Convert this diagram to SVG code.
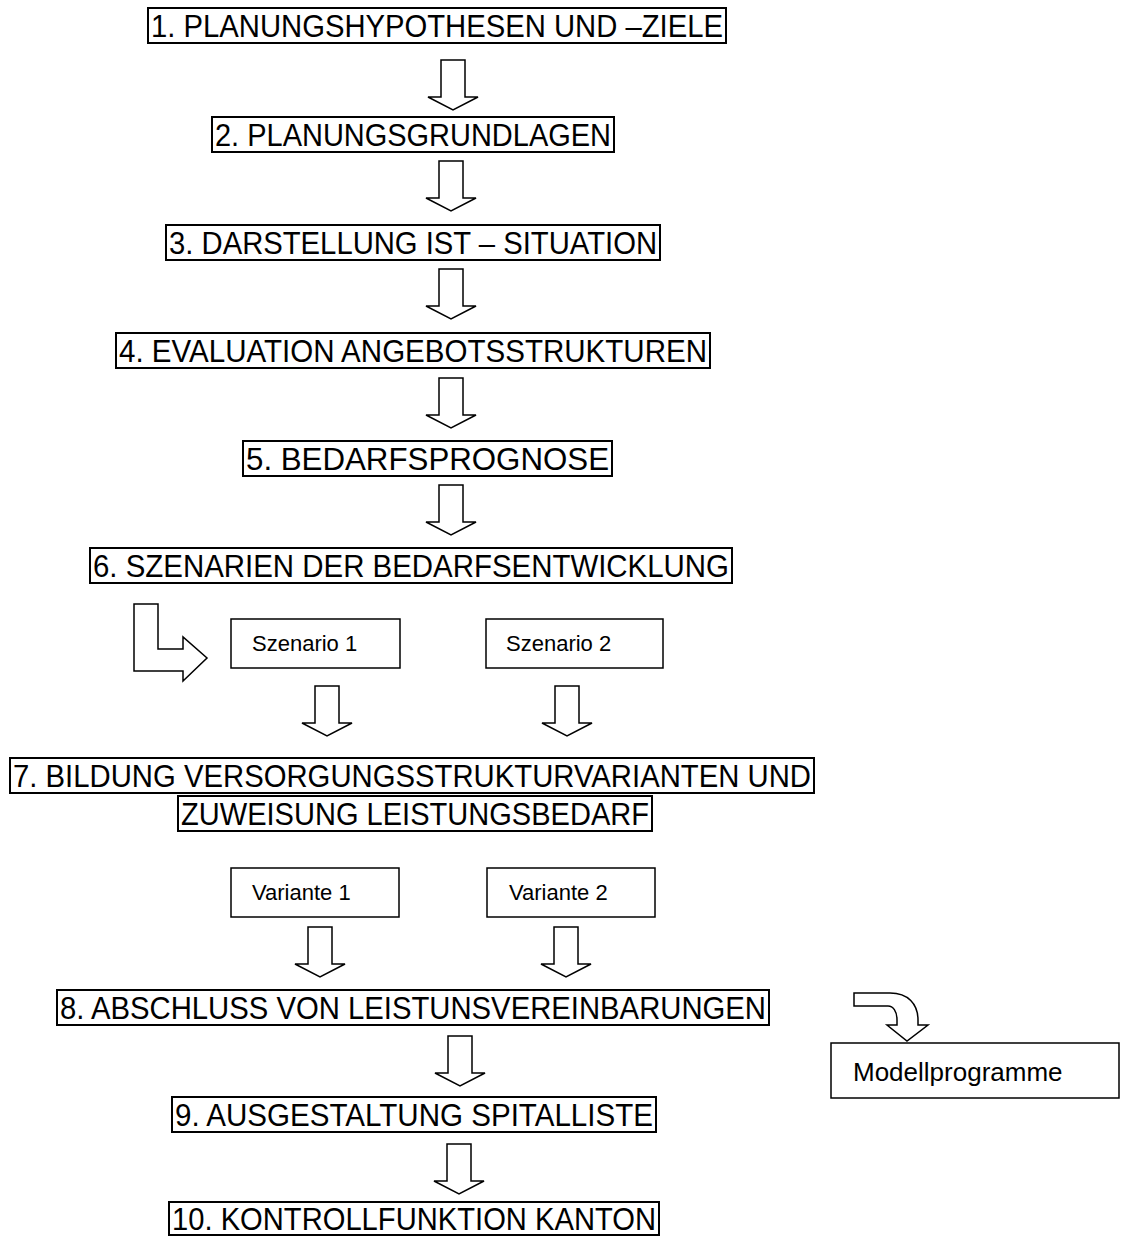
<svg xmlns="http://www.w3.org/2000/svg" width="1126" height="1237" viewBox="0 0 1126 1237">
<style>
.box{fill:#fff;stroke:#000;stroke-width:2}
.sbox{fill:#fff;stroke:#000;stroke-width:1.5}
.t{font-family:"Liberation Sans",Arial,sans-serif;font-size:32px;fill:#000}
.s{font-family:"Liberation Sans",Arial,sans-serif;font-size:22px;fill:#000}
.m{font-family:"Liberation Sans",Arial,sans-serif;font-size:26px;fill:#000}
.arr{fill:#fff;stroke:#000;stroke-width:1.5;stroke-linejoin:miter}
</style>
<defs>
<path id="down" d="M -12 0 H 12 V 37 H 25 L 0 50 L -25 37 H -12 Z"/>
</defs>
<rect width="1126" height="1237" fill="#fff"/>
<g id="connectors">
<use href="#down" class="arr" x="453" y="60"/>
<use href="#down" class="arr" x="451" y="161"/>
<use href="#down" class="arr" x="451" y="269"/>
<use href="#down" class="arr" x="451" y="378"/>
<use href="#down" class="arr" x="451" y="485"/>
<path class="arr" d="M 134 604 H 158 V 649 H 183 V 637 L 207 658 L 183 681 V 671 H 134 Z"/>
<use href="#down" class="arr" x="327" y="686"/>
<use href="#down" class="arr" x="567" y="686"/>
<use href="#down" class="arr" x="320" y="927"/>
<use href="#down" class="arr" x="566" y="927"/>
<use href="#down" class="arr" x="460" y="1036"/>
<use href="#down" class="arr" x="459" y="1144"/>
<path class="arr" d="M 854 993 H 890 C 908 993 918 1004 918 1020 V 1025 H 928 L 907 1041 L 887 1025 H 897 V 1020 C 897 1011 893 1006 888 1006 H 854 Z"/>
</g>
<g id="n1"><rect class="box" x="148" y="8" width="578" height="35"/><text class="t" x="151" y="37" textLength="572" lengthAdjust="spacingAndGlyphs">1. PLANUNGSHYPOTHESEN UND –ZIELE</text></g>
<g id="n2"><rect class="box" x="212" y="117" width="402" height="35"/><text class="t" x="215" y="146" textLength="396" lengthAdjust="spacingAndGlyphs">2. PLANUNGSGRUNDLAGEN</text></g>
<g id="n3"><rect class="box" x="166" y="225" width="494" height="35"/><text class="t" x="169" y="254" textLength="488" lengthAdjust="spacingAndGlyphs">3. DARSTELLUNG IST – SITUATION</text></g>
<g id="n4"><rect class="box" x="116" y="333" width="594" height="35"/><text class="t" x="119" y="362" textLength="588" lengthAdjust="spacingAndGlyphs">4. EVALUATION ANGEBOTSSTRUKTUREN</text></g>
<g id="n5"><rect class="box" x="243" y="441" width="369" height="35"/><text class="t" x="246" y="470" textLength="363" lengthAdjust="spacingAndGlyphs">5. BEDARFSPROGNOSE</text></g>
<g id="n6"><rect class="box" x="90" y="548" width="642" height="35"/><text class="t" x="93" y="577" textLength="636" lengthAdjust="spacingAndGlyphs">6. SZENARIEN DER BEDARFSENTWICKLUNG</text></g>
<g id="sz1"><rect class="sbox" x="231" y="619" width="169" height="49"/><text class="s" x="252" y="651">Szenario 1</text></g>
<g id="sz2"><rect class="sbox" x="486" y="619" width="177" height="49"/><text class="s" x="506" y="651">Szenario 2</text></g>
<g id="n7"><rect class="box" x="10" y="758" width="804" height="35"/><text class="t" x="13" y="787" textLength="798" lengthAdjust="spacingAndGlyphs">7. BILDUNG VERSORGUNGSSTRUKTURVARIANTEN UND</text><rect class="box" x="178" y="796" width="474" height="35"/><text class="t" x="181" y="825" textLength="468" lengthAdjust="spacingAndGlyphs">ZUWEISUNG LEISTUNGSBEDARF</text></g>
<g id="v1"><rect class="sbox" x="231" y="868" width="168" height="49"/><text class="s" x="252" y="900">Variante 1</text></g>
<g id="v2"><rect class="sbox" x="487" y="868" width="168" height="49"/><text class="s" x="509" y="900">Variante 2</text></g>
<g id="n8"><rect class="box" x="57" y="990" width="712" height="35"/><text class="t" x="60" y="1019" textLength="706" lengthAdjust="spacingAndGlyphs">8. ABSCHLUSS VON LEISTUNSVEREINBARUNGEN</text></g>
<g id="mp"><rect class="sbox" x="831" y="1043" width="288" height="55"/><text class="m" x="853" y="1081">Modellprogramme</text></g>
<g id="n9"><rect class="box" x="172" y="1097" width="484" height="35"/><text class="t" x="175" y="1126" textLength="478" lengthAdjust="spacingAndGlyphs">9. AUSGESTALTUNG SPITALLISTE</text></g>
<g id="n10"><rect class="box" x="169" y="1202" width="490" height="33"/><text class="t" x="172" y="1230" textLength="484" lengthAdjust="spacingAndGlyphs">10. KONTROLLFUNKTION KANTON</text></g>
</svg>
